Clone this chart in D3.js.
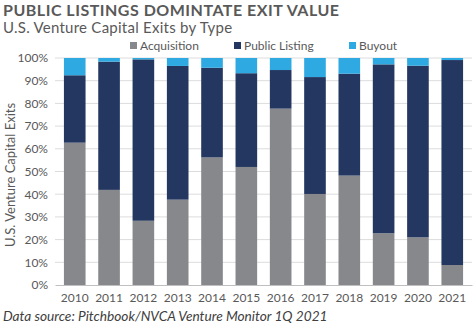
<!DOCTYPE html>
<html>
<head>
<meta charset="utf-8">
<script src="https://cdn.jsdelivr.net/npm/d3@7"></script>
<style>
  body { margin: 0; background: #fff; }
  text { font-family: Lato, "Open Sans", sans-serif; }
</style>
</head>
<body>
<div id="chart"></div>
<script>
var years = ["2010","2011","2012","2013","2014","2015","2016","2017","2018","2019","2020","2021"];
var acquisition   = [62.7, 41.9, 28.3, 37.6, 56.2, 52.0, 77.7, 40.1, 48.2, 22.8, 21.0, 8.8];
var publicListing = [29.7, 56.5, 71.1, 58.9, 39.5, 41.3, 17.0, 51.5, 44.9, 74.4, 75.6, 90.3];
var buyout        = [7.6, 1.6, 0.6, 3.5, 4.3, 6.7, 5.3, 8.4, 6.9, 2.8, 3.4, 0.9];
var seriesNames = ["Acquisition", "Public Listing", "Buyout"];
var colors = ["#87888c", "#243760", "#2ea9e1"];
var yTicks = [0, 10, 20, 30, 40, 50, 60, 70, 80, 90, 100];

var W = 475, H = 328;
var svg = d3.select("#chart").append("svg").attr("width", W).attr("height", H);

var rows = years.map(function(y, i) {
  return {year: y, "Acquisition": acquisition[i], "Public Listing": publicListing[i], "Buyout": buyout[i]};
});
var stacked = d3.stack().keys(seriesNames)(rows);

var x = d3.scaleBand().domain(years).range([55, 472]).paddingInner(0.37).paddingOuter(0.26);
var y = d3.scaleLinear().domain([0, 100]).range([285, 58]);

// gridlines
svg.append("g").selectAll("line").data(yTicks.slice(1)).enter().append("line")
  .attr("x1", 55).attr("x2", 472)
  .attr("y1", function(d) { return y(d); }).attr("y2", function(d) { return y(d); })
  .attr("stroke", "#dcdcdc").attr("stroke-width", 1);

// bars
svg.append("g").selectAll("g").data(stacked).enter().append("g")
  .attr("fill", function(d, i) { return colors[i]; })
  .selectAll("rect").data(function(d) { return d; }).enter().append("rect")
    .attr("x", function(d) { return x(d.data.year); })
    .attr("width", x.bandwidth())
    .attr("y", function(d) { return y(d[1]); })
    .attr("height", function(d) { return y(d[0]) - y(d[1]); });

// x axis
var xAxis = svg.append("g").attr("transform", "translate(0,285)")
  .call(d3.axisBottom(x).tickSize(0).tickPadding(8));
xAxis.select(".domain").attr("stroke", "#bfbfbf");
xAxis.selectAll("text").attr("fill", "#595959").style("font-size", "12px");

// y axis
var yAxis = svg.append("g").attr("transform", "translate(48,0)")
  .call(d3.axisLeft(y).tickValues(yTicks).tickSize(0).tickPadding(0).tickFormat(function(d) { return d + "%"; }));
yAxis.select(".domain").remove();
yAxis.selectAll("text").attr("fill", "#595959").style("font-size", "12px");

svg.append("text")
  .attr("transform", "translate(15,175) rotate(-90)")
  .attr("text-anchor", "middle")
  .attr("fill", "#595959").style("font-size", "13px")
  .text("U.S. Venture Capital Exits");

// titles
svg.append("text").attr("x", 3).attr("y", 16)
  .attr("fill", "#595959").style("font-size", "16px").style("font-weight", "bold")
  .style("letter-spacing", "0.5px")
  .text("PUBLIC LISTINGS DOMINTATE EXIT VALUE");
svg.append("text").attr("x", 3).attr("y", 33)
  .attr("fill", "#595959").style("font-size", "15px").style("letter-spacing", "0.25px")
  .text("U.S. Venture Capital Exits by Type");

// legend
var legendX = [130, 234, 349];
var legend = svg.append("g").selectAll("g").data(seriesNames).enter().append("g")
  .attr("transform", function(d, i) { return "translate(" + legendX[i] + ",45)"; });
legend.append("rect").attr("x", 0).attr("y", -3).attr("width", 7).attr("height", 7)
  .attr("fill", function(d, i) { return colors[i]; });
legend.append("text").attr("x", 10).attr("y", 4.5)
  .attr("fill", "#595959").style("font-size", "12px")
  .text(function(d) { return d; });

// source
svg.append("text").attr("x", 3).attr("y", 321)
  .attr("fill", "#404040").style("font-size", "13.7px").style("font-style", "italic")
  .text("Data source: Pitchbook/NVCA Venture Monitor 1Q 2021");
</script>
</body>
</html>
